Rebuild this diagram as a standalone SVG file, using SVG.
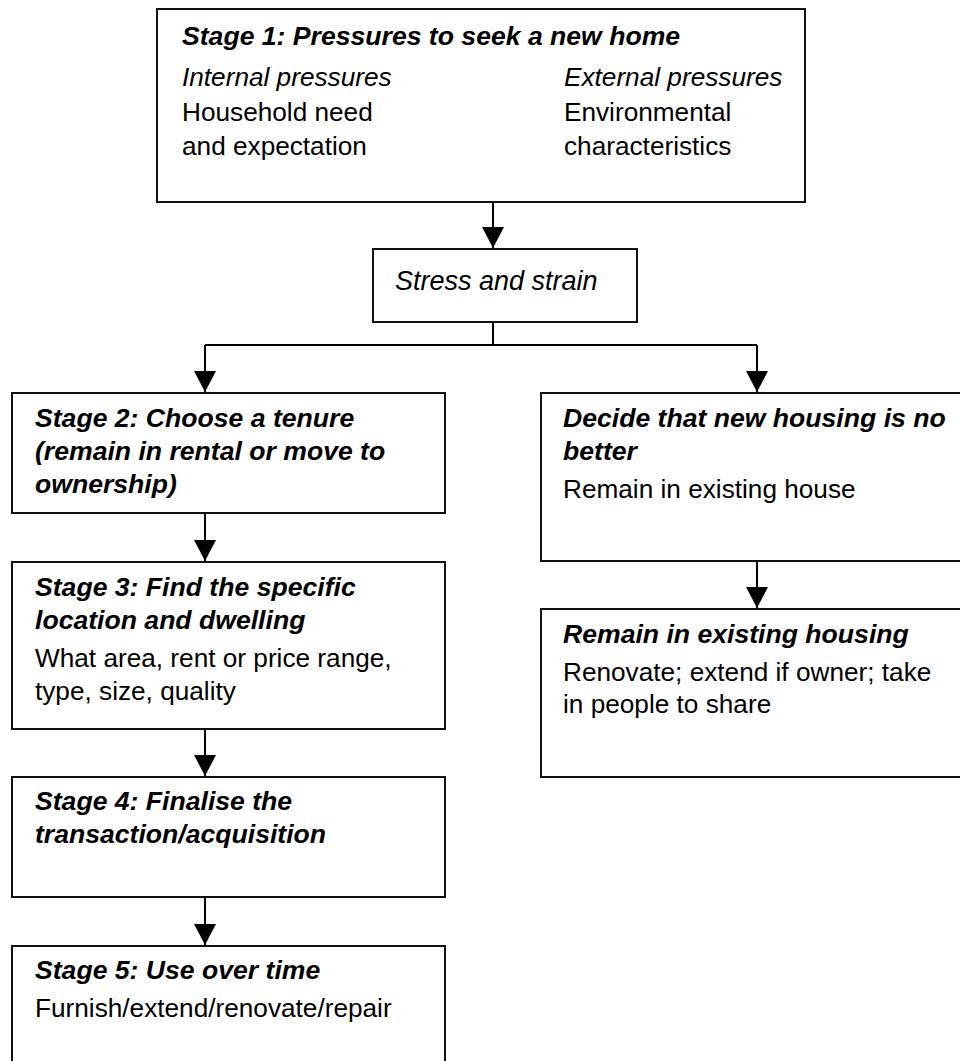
<svg xmlns="http://www.w3.org/2000/svg" width="960" height="1061" viewBox="0 0 960 1061">
<style>
.box{fill:#fff;stroke:#111;stroke-width:2}
.t{font-family:"Liberation Sans",Arial,sans-serif;font-size:26.2px;fill:#000}
.h{font-weight:bold;font-style:italic;font-size:26.6px}
.i{font-style:italic}
.c{fill:none;stroke:#000;stroke-width:2}
</style>
<defs>
<marker id="ah" markerUnits="userSpaceOnUse" markerWidth="22" markerHeight="22" viewBox="0 0 22 22" refX="21" refY="11" orient="auto">
<path d="M0,0 L21,11 L0,22 Z" fill="#000"/>
</marker>
</defs>
<rect width="960" height="1061" fill="#fff"/>
<g id="stage1">
<rect class="box" x="157" y="9" width="648" height="193"/>
<text class="t h" x="182" y="45">Stage 1: Pressures to seek a new home</text>
<text class="t i" x="182" y="86">Internal pressures</text>
<text class="t i" x="564" y="86">External pressures</text>
<text class="t" x="182" y="121">Household need</text>
<text class="t" x="182" y="155">and expectation</text>
<text class="t" x="564" y="121">Environmental</text>
<text class="t" x="564" y="155">characteristics</text>
</g>
<g id="stress">
<rect class="box" x="373" y="249" width="264" height="73"/>
<text class="t i" x="395" y="290" style="font-size:27px">Stress and strain</text>
</g>
<g id="stage2">
<rect class="box" x="12" y="393" width="433" height="120"/>
<text class="t h" x="35" y="427">Stage 2: Choose a tenure</text>
<text class="t h" x="35" y="460">(remain in rental or move to</text>
<text class="t h" x="35" y="493">ownership)</text>
</g>
<g id="decide">
<rect class="box" x="541" y="393" width="440" height="168"/>
<text class="t h" x="563" y="427">Decide that new housing is no</text>
<text class="t h" x="563" y="460">better</text>
<text class="t" x="563" y="498">Remain in existing house</text>
</g>
<g id="stage3">
<rect class="box" x="12" y="562" width="433" height="167"/>
<text class="t h" x="35" y="596">Stage 3: Find the specific</text>
<text class="t h" x="35" y="629">location and dwelling</text>
<text class="t" x="35" y="667">What area, rent or price range,</text>
<text class="t" x="35" y="700">type, size, quality</text>
</g>
<g id="remain">
<rect class="box" x="541" y="609" width="440" height="168"/>
<text class="t h" x="563" y="643">Remain in existing housing</text>
<text class="t" x="563" y="681">Renovate; extend if owner; take</text>
<text class="t" x="563" y="713">in people to share</text>
</g>
<g id="stage4">
<rect class="box" x="12" y="777" width="433" height="120"/>
<text class="t h" x="35" y="810">Stage 4: Finalise the</text>
<text class="t h" x="35" y="843">transaction/acquisition</text>
</g>
<g id="stage5">
<rect class="box" x="12" y="946" width="433" height="140"/>
<text class="t h" x="35" y="979">Stage 5: Use over time</text>
<text class="t" x="35" y="1017">Furnish/extend/renovate/repair</text>
</g>
<g id="connectors">
<path class="c" d="M493,202 V248" marker-end="url(#ah)"/>
<path class="c" d="M493,322 V345 M205,345 H757"/>
<path class="c" d="M205,345 V392" marker-end="url(#ah)"/>
<path class="c" d="M757,345 V392" marker-end="url(#ah)"/>
<path class="c" d="M205,513 V561" marker-end="url(#ah)"/>
<path class="c" d="M757,561 V608" marker-end="url(#ah)"/>
<path class="c" d="M205,729 V776" marker-end="url(#ah)"/>
<path class="c" d="M205,897 V945" marker-end="url(#ah)"/>
</g>
</svg>
